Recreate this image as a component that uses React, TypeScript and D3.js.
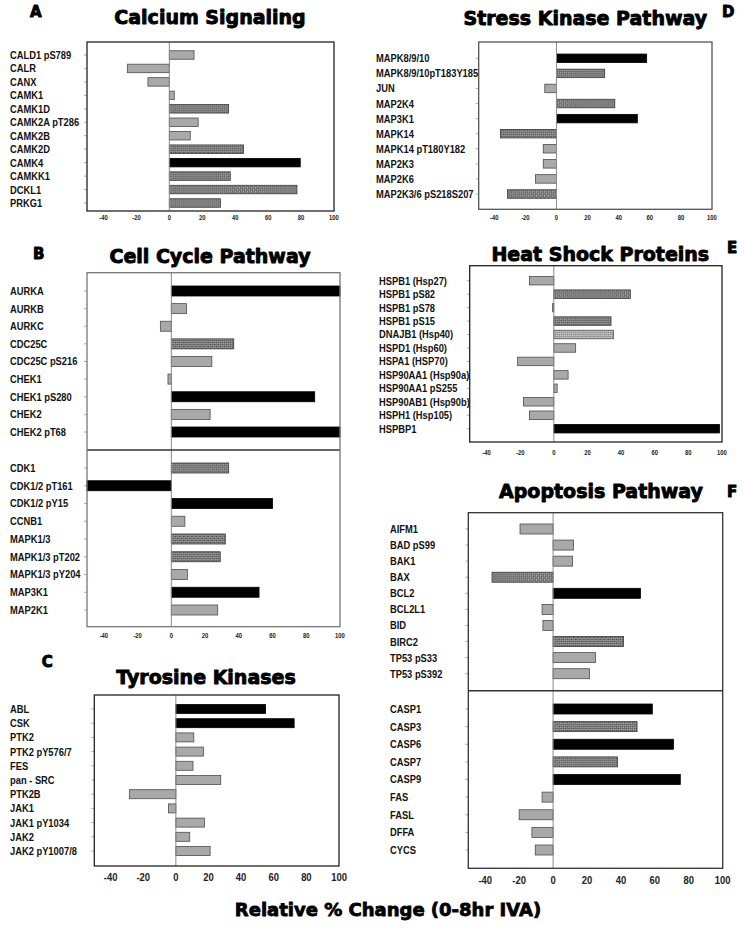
import * as d3 from "d3";

// ---- data ----
const calciumGenes = ["CALD1 pS789", "CALR", "CANX", "CAMK1", "CAMK1D", "CAMK2A pT286", "CAMK2B", "CAMK2D", "CAMK4", "CAMKK1", "DCKL1", "PRKG1"];
const calciumChange = [15, -25.5, -13, 3, 36, 17.5, 12.7, 45, 79.5, 37, 77.5, 31];
const calciumGroup = ["ns", "ns", "ns", "ns", "mod", "ns", "ns", "mod", "high", "mod", "mod", "mod"];

const cycleGenesA = ["AURKA", "AURKB", "AURKC", "CDC25C", "CDC25C pS216", "CHEK1", "CHEK1 pS280", "CHEK2", "CHEK2 pT68"];
const cycleChangeA = [100, 9, -6.5, 37, 24, -2, 85, 23, 100];
const cycleGroupA = ["high", "ns", "ns", "mod", "ns", "ns", "high", "ns", "high"];
const cycleGenesB = ["CDK1", "CDK1/2 pT161", "CDK1/2 pY15", "CCNB1", "MAPK1/3", "MAPK1/3 pT202", "MAPK1/3 pY204", "MAP3K1", "MAP2K1"];
const cycleChangeB = [34, -50, 60, 8, 32, 29, 9.5, 52, 27.5];
const cycleGroupB = ["mod", "high", "high", "ns", "mod", "mod", "ns", "high", "ns"];

const tyrosineGenes = ["ABL", "CSK", "PTK2", "PTK2 pY576/7", "FES", "pan - SRC", "PTK2B", "JAK1", "JAK1 pY1034", "JAK2", "JAK2 pY1007/8"];
const tyrosineChange = [55, 72.5, 11, 17, 10.5, 27.5, -28.5, -4.5, 17.5, 8.5, 21];
const tyrosineGroup = ["high", "high", "ns", "ns", "ns", "ns", "ns", "ns", "ns", "ns", "ns"];

const stressGenes = ["MAPK8/9/10", "MAPK8/9/10pT183Y185", "JUN", "MAP2K4", "MAP3K1", "MAPK14", "MAPK14 pT180Y182", "MAP2K3", "MAP2K6", "MAP2K3/6 pS218S207"];
const stressChange = [58, 31, -7.5, 37.5, 52, -36, -8.5, -8.5, -13.5, -31.5];
const stressGroup = ["high", "mod", "ns", "mod", "high", "mod", "ns", "ns", "ns", "mod"];

const heatGenes = ["HSPB1 (Hsp27)", "HSPB1 pS82", "HSPB1 pS78", "HSPB1 pS15", "DNAJB1 (Hsp40)", "HSPD1 (Hsp60)", "HSPA1 (HSP70)", "HSP90AA1 (Hsp90a)", "HSP90AA1 pS255", "HSP90AB1 (Hsp90b)", "HSPH1 (Hsp105)", "HSPBP1"];
const heatChange = [-14.5, 45.5, -0.7, 34, 35.5, 13, -21.5, 8.5, 2, -18, -14.5, 98.5];
const heatGroup = ["ns", "mod", "ns", "mod", "low", "ns", "ns", "ns", "ns", "ns", "ns", "high"];

const apopGenesA = ["AIFM1", "BAD pS99", "BAK1", "BAX", "BCL2", "BCL2L1", "BID", "BIRC2", "TP53 pS33", "TP53 pS392"];
const apopChangeA = [-19.5, 12, 11.5, -36, 51.5, -6.5, -6, 41.5, 25, 21.5];
const apopGroupA = ["ns", "ns", "ns", "mod", "high", "ns", "ns", "mod", "ns", "ns"];
const apopGenesB = ["CASP1", "CASP3", "CASP6", "CASP7", "CASP9", "FAS", "FASL", "DFFA", "CYCS"];
const apopChangeB = [58.5, 49.5, 71, 38, 75, -6.5, -20, -12.5, -10.5];
const apopGroupB = ["high", "mod", "high", "mod", "high", "ns", "ns", "ns", "ns"];

const xTicks = [-40, -20, 0, 20, 40, 60, 80, 100];
const xDomain: [number, number] = [-50, 100];

// ---- styles ----
const groupFill: Record<string, string> = {
  ns: "#a9a9a9",
  mod: "url(#hatchDark)",
  low: "url(#hatchLight)",
  high: "#000",
};
const groupStroke: Record<string, string> = {
  ns: "#4d4d4d",
  mod: "#3a3a3a",
  low: "#555",
  high: "#000",
};

const titleFont = "'DejaVu Sans', sans-serif";
const labelFont = "'Liberation Sans', Arial, sans-serif";

interface Section {
  genes: string[];
  change: number[];
  group: string[];
  first: number;
  last: number;
}

interface PanelSpec {
  title: string;
  titleX: number;
  titleY: number;
  letter: string;
  letterX: number;
  letterY: number;
  x0: number;
  x1: number;
  y0: number;
  y1: number;
  dividers: number[];
  sections: Section[];
  barH: number;
  labelX: number;
  tickY: number;
  tickSize: number;
  boxStroke: string;
}

const panels: PanelSpec[] = [
  {
    title: "Calcium Signaling", titleX: 210, titleY: 23.5, letter: "A", letterX: 30, letterY: 16.7,
    x0: 87, x1: 334, y0: 42, y1: 211, dividers: [],
    sections: [{ genes: calciumGenes, change: calciumChange, group: calciumGroup, first: 55, last: 203 }],
    barH: 8.5, labelX: 10, tickY: 218, tickSize: 6.5, boxStroke: "#222",
  },
  {
    title: "Cell Cycle Pathway", titleX: 210, titleY: 263.3, letter: "B", letterX: 33, letterY: 259.3,
    x0: 87, x1: 340, y0: 272.7, y1: 626.7, dividers: [450],
    sections: [
      { genes: cycleGenesA, change: cycleChangeA, group: cycleGroupA, first: 291, last: 432 },
      { genes: cycleGenesB, change: cycleChangeB, group: cycleGroupB, first: 468, last: 610 },
    ],
    barH: 10, labelX: 10, tickY: 636, tickSize: 6.5, boxStroke: "#777",
  },
  {
    title: "Tyrosine Kinases", titleX: 206, titleY: 684, letter: "C", letterX: 41.7, letterY: 667.3,
    x0: 94.3, x1: 339, y0: 695, y1: 866, dividers: [],
    sections: [{ genes: tyrosineGenes, change: tyrosineChange, group: tyrosineGroup, first: 709, last: 851 }],
    barH: 9, labelX: 10, tickY: 877, tickSize: 10.5, boxStroke: "#222",
  },
  {
    title: "Stress Kinase Pathway", titleX: 585.3, titleY: 25, letter: "D", letterX: 722, letterY: 16.7,
    x0: 478.7, x1: 712, y0: 42, y1: 209.3, dividers: [],
    sections: [{ genes: stressGenes, change: stressChange, group: stressGroup, first: 58.3, last: 194 }],
    barH: 8.5, labelX: 376, tickY: 218, tickSize: 6.5, boxStroke: "#555",
  },
  {
    title: "Heat Shock Proteins", titleX: 600.3, titleY: 260.7, letter: "E", letterX: 727, letterY: 252.7,
    x0: 469.7, x1: 722, y0: 265.7, y1: 442, dividers: [],
    sections: [{ genes: heatGenes, change: heatChange, group: heatGroup, first: 280.7, last: 428.7 }],
    barH: 8.5, labelX: 379, tickY: 452.3, tickSize: 6.5, boxStroke: "#222",
  },
  {
    title: "Apoptosis Pathway", titleX: 601, titleY: 498.3, letter: "F", letterX: 727, letterY: 496.7,
    x0: 468.3, x1: 722.7, y0: 512.7, y1: 868.3, dividers: [690.7],
    sections: [
      { genes: apopGenesA, change: apopChangeA, group: apopGroupA, first: 529, last: 673.7 },
      { genes: apopGenesB, change: apopChangeB, group: apopGroupB, first: 709, last: 850 },
    ],
    barH: 10, labelX: 390, tickY: 880, tickSize: 10.5, boxStroke: "#333",
  },
];

function Panel({ p }: { p: PanelSpec }) {
  const x = d3.scaleLinear().domain(xDomain).range([p.x0, p.x1]);
  const zero = x(0);
  const heavy = { stroke: "#000", strokeWidth: 0.9, strokeLinejoin: "round" as const };
  return (
    <g>
      <text x={p.titleX} y={p.titleY} textAnchor="middle" fontFamily={titleFont} fontWeight="bold" fontSize={19} {...heavy}>
        {p.title}
      </text>
      <text x={p.letterX} y={p.letterY} fontFamily={titleFont} fontWeight="bold" fontSize={15} {...heavy}>
        {p.letter}
      </text>
      {p.sections.map((s, si) => {
        const y = d3.scalePoint<string>().domain(s.genes).range([s.first, s.last]);
        return (
          <g key={si}>
            {s.genes.map((g, i) => {
              const v = s.change[i];
              const yc = y(g) as number;
              const xa = x(Math.min(0, v));
              const w = Math.abs(x(v) - zero);
              return (
                <g key={g}>
                  <line x1={p.x0 - 3} x2={p.x0} y1={yc} y2={yc} stroke="#999" strokeWidth={0.8} />
                  <text
                    transform={`translate(${p.labelX},${yc}) scale(0.85,1)`}
                    dy="0.36em"
                    fontFamily={labelFont}
                    fontWeight="bold"
                    fontSize={11}
                    fill="#111"
                  >
                    {g}
                  </text>
                  <rect
                    x={xa}
                    y={yc - p.barH / 2}
                    width={w}
                    height={p.barH}
                    fill={groupFill[s.group[i]]}
                    stroke={groupStroke[s.group[i]]}
                    strokeWidth={0.8}
                  />
                </g>
              );
            })}
          </g>
        );
      })}
      <line x1={zero} x2={zero} y1={p.y0} y2={p.y1} stroke="#8a8a8a" strokeWidth={1} />
      {p.dividers.map((d) => (
        <line key={d} x1={p.x0} x2={p.x1} y1={d} y2={d} stroke="#333" strokeWidth={1.6} />
      ))}
      <rect x={p.x0} y={p.y0} width={p.x1 - p.x0} height={p.y1 - p.y0} fill="none" stroke={p.boxStroke} strokeWidth={1.3} />
      {xTicks.map((t) => (
        <text
          key={t}
          transform={`translate(${x(t)},${p.tickY}) scale(0.9,1)`}
          dy="0.35em"
          textAnchor="middle"
          fontFamily={labelFont}
          fontWeight="bold"
          fontSize={p.tickSize}
          fill="#222"
        >
          {t}
        </text>
      ))}
    </g>
  );
}

export default function App() {
  return (
    <svg width={744} height={930} style={{ position: "absolute", left: 0, top: 0, background: "#fff" }}>
      <defs>
        <pattern id="hatchDark" width={2.8} height={2.8} patternUnits="userSpaceOnUse" patternTransform="rotate(45)">
          <rect width={2.8} height={2.8} fill="#4a4a4a" />
          <rect width={1.4} height={1.4} fill="#b3b3b3" />
          <rect x={1.4} y={1.4} width={1.4} height={1.4} fill="#b3b3b3" />
        </pattern>
        <pattern id="hatchLight" width={2.8} height={2.8} patternUnits="userSpaceOnUse" patternTransform="rotate(45)">
          <rect width={2.8} height={2.8} fill="#7a7a7a" />
          <rect width={1.4} height={1.4} fill="#e0e0e0" />
          <rect x={1.4} y={1.4} width={1.4} height={1.4} fill="#e0e0e0" />
        </pattern>
      </defs>
      <rect width={744} height={930} fill="#fff" />
      {panels.map((p) => (
        <Panel key={p.letter} p={p} />
      ))}
      <text x={388} y={916} textAnchor="middle" fontFamily={titleFont} fontWeight="bold" fontSize={18} stroke="#000" strokeWidth={0.8}>
        Relative % Change (0-8hr IVA)
      </text>
    </svg>
  );
}
